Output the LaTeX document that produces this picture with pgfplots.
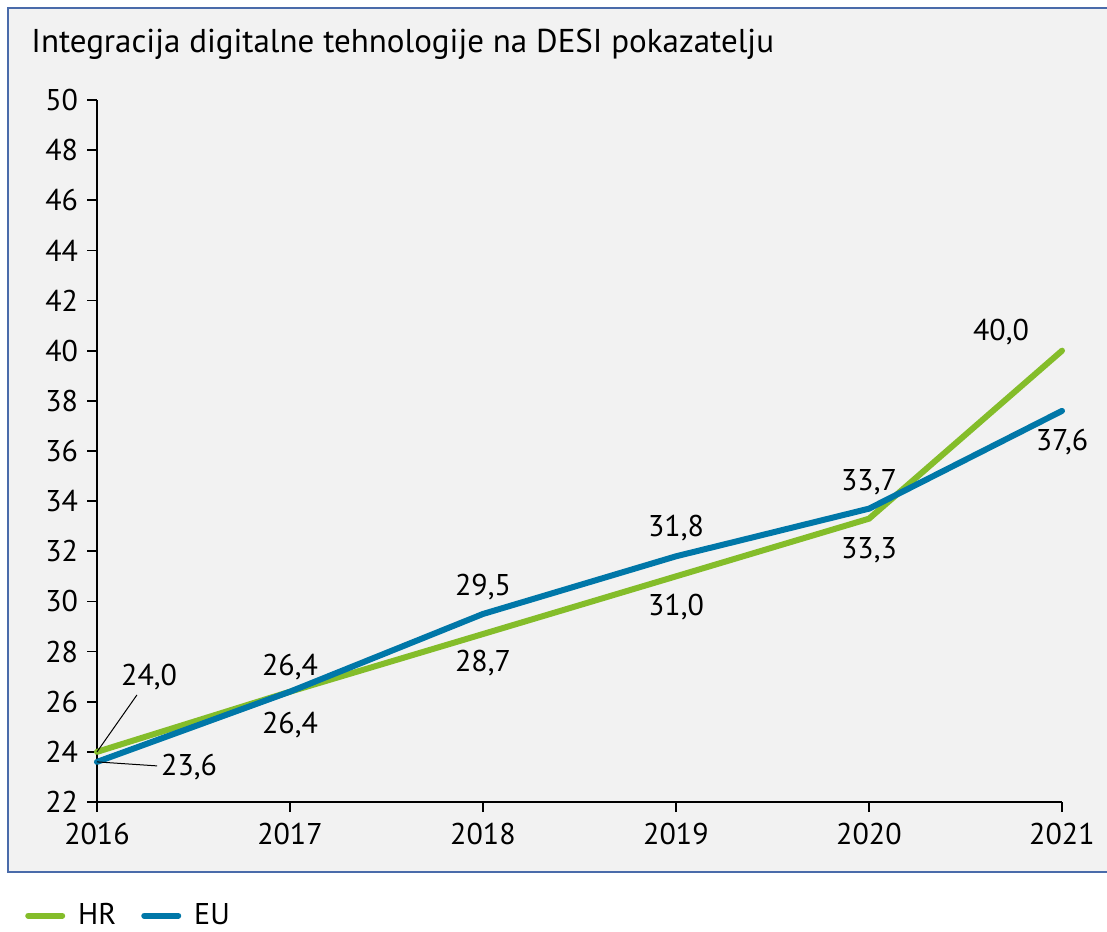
\documentclass[border=0pt]{standalone}
\usepackage{fontspec}
\setmainfont{PT Sans}
\usepackage{pgfplots}
\pgfplotsset{compat=1.18}
\definecolor{hrgreen}{HTML}{84BD2A}
\definecolor{eublue}{HTML}{0077A8}
\definecolor{panelbg}{HTML}{F2F2F2}
\definecolor{panelborder}{HTML}{4A6BAA}
\newcommand{\lbl}{\fontsize{15}{18}\selectfont}
\begin{document}
\begin{tikzpicture}
% panel behind the chart
\fill[panelbg] (-44.5pt,-35pt) rectangle (520pt,397pt);
\draw[panelborder, line width=1.2pt] (520pt,397pt) -- (-44.5pt,397pt) -- (-44.5pt,-35pt) -- (520pt,-35pt);
\node[anchor=west, inner sep=0pt, font=\fontsize{16.5}{19}\selectfont] at (-33pt,379pt) {Integracija digitalne tehnologije na DESI pokazatelju};
\begin{axis}[
  at={(0pt,0pt)}, anchor=origin,
  scale only axis, width=482.5pt, height=351pt,
  xmin=2016, xmax=2021, ymin=22, ymax=50,
  xtick={2016,...,2021}, ytick={22,24,...,50},
  axis x line*=bottom, axis y line*=left,
  axis line style={line width=0.9pt, -},
  tick align=outside, major tick length=5pt,
  tick style={line width=0.9pt, black},
  /pgf/number format/assume math mode=true,
  tick label style={font=\lbl},
  xticklabel style={/pgf/number format/1000 sep={}, yshift=-2pt},
  yticklabel style={xshift=-1pt},
  legend columns=2,
  legend style={draw=none, fill=none, at={(-0.081,-0.162)}, anchor=west,
    font=\lbl, column sep=6.5pt, nodes={inner xsep=0pt, inner ysep=1pt},
    /tikz/every even column/.append style={column sep=12.5pt}},
  legend image code/.code={\draw[#1, line width=3pt, line cap=round] (1.5pt,0pt) -- (18.5pt,0pt);},
  every axis plot/.append style={line width=3pt},
  clip=false,
]
\addplot[color=hrgreen, line cap=round] coordinates {(2016,24.0) (2017,26.4) (2018,28.7) (2019,31.0) (2020,33.3) (2021,40.0)};
\addlegendentry{HR}
\addplot[color=eublue, line cap=round] coordinates {(2016,23.6) (2017,26.4) (2018,29.5) (2019,31.8) (2020,33.7) (2021,37.6)};
\addlegendentry{EU}
% value labels
\begin{scope}[every node/.style={font=\lbl}]
\node at (axis cs:2016.27,26.99) {24,0};
\node at (axis cs:2016.477,23.40) {23,6};
\draw[line width=0.5pt] (axis cs:2016,24.0) -- (axis cs:2016.207,26.27);
\draw[line width=0.5pt] (axis cs:2016,23.6) -- (axis cs:2016.311,23.44);
\node at (axis cs:2017,27.385) {26,4};
\node at (axis cs:2017,25.07) {26,4};
\node at (axis cs:2018,30.58) {29,5};
\node at (axis cs:2018,27.54) {28,7};
\node at (axis cs:2019,32.93) {31,8};
\node at (axis cs:2019,29.78) {31,0};
\node at (axis cs:2020,34.76) {33,7};
\node at (axis cs:2020,32.05) {33,3};
\node at (axis cs:2020.684,40.75) {40,0};
\node at (axis cs:2021.0,36.36) {37,6};
\end{scope}
\end{axis}
\pgfresetboundingbox
\path[use as bounding box] (-48.5pt,-64.5pt) rectangle (505pt,401pt);
\end{tikzpicture}
\end{document}
